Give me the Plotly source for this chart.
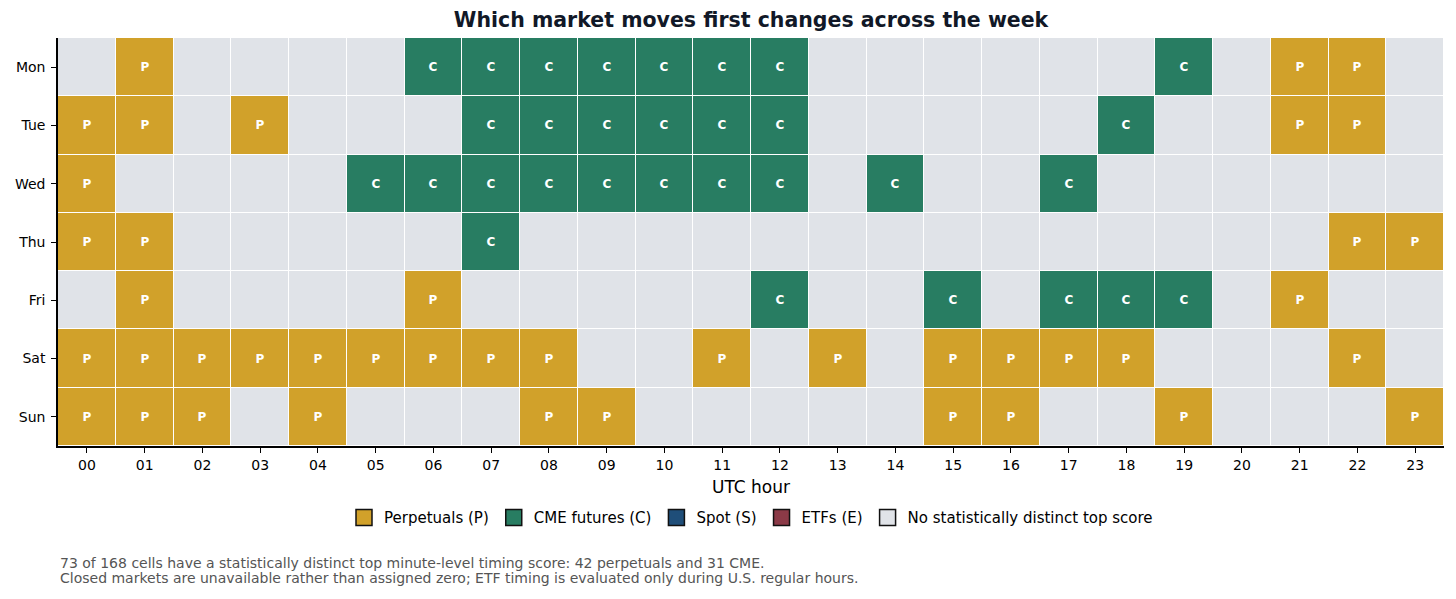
import plotly.graph_objects as go

days = ["Mon", "Tue", "Wed", "Thu", "Fri", "Sat", "Sun"]
hours = [f"{h:02d}" for h in range(24)]

# one letter per UTC hour: P perpetuals, C CME, S spot, E ETFs, - none
mon = "-P----CCCCCCC------C-PP-"
tue = "PP-P---CCCCCC-----C--PP-"
wed = "P----CCCCCCCC-C--C------"
thu = "PP-----C--------------PP"
fri = "-P----P-----C--C-CCC-P--"
sat = "PPPPPPPPP--P-P-PPPP---P-"
sun = "PPP-P---PP-----PP--P---P"

markets = ["Perpetuals (P)", "CME futures (C)", "Spot (S)", "ETFs (E)",
           "No statistically distinct top score"]
colors = ["#D1A12A", "#287D62", "#1F4E79", "#8B3A47", "#E0E3E8"]

footnote = [
    "73 of 168 cells have a statistically distinct top minute-level timing score: 42 perpetuals and 31 CME.",
    "Closed markets are unavailable rather than assigned zero; ETF timing is evaluated only during U.S. regular hours.",
]

rows = [mon, tue, wed, thu, fri, sat, sun]
code_val = {"-": 0, "P": 1, "C": 2, "S": 3, "E": 4}
z = [[code_val[c] for c in r] for r in rows]
txt = [["" if c == "-" else c for c in r] for r in rows]

gray, p, c, s, e = colors[4], colors[0], colors[1], colors[2], colors[3]
cscale = [[0, gray], [0.125, gray], [0.125, p], [0.375, p], [0.375, c],
          [0.625, c], [0.625, s], [0.875, s], [0.875, e], [1, e]]

fig = go.Figure()
fig.add_trace(go.Heatmap(
    z=z, x=hours, y=days, text=txt, texttemplate="%{text}",
    textfont=dict(family="DejaVu Sans", size=12, color="white", weight="bold"),
    colorscale=cscale, zmin=0, zmax=4, showscale=False,
    xgap=1, ygap=1, hoverinfo="skip", showlegend=False
))

# legend entries
for name, col in zip(markets, colors):
    fig.add_trace(go.Scatter(
        x=[None], y=[None], mode="markers", name=name,
        marker=dict(symbol="square", size=16, color=col,
                    line=dict(color="#111111", width=1.5))
    ))

# page body has an 8px margin, so the figure is a bit smaller than the window
fig.update_layout(
    width=1440, height=583,
    paper_bgcolor="white", plot_bgcolor="white",
    margin=dict(l=50, r=4, t=30, b=145),
    font=dict(family="DejaVu Sans", size=14, color="black"),
    title=dict(text="<b>Which market moves first changes across the week</b>",
               x=0.516, xanchor="center", y=0.979, yanchor="middle",
               font=dict(size=20.5, color="#111827")),
    legend=dict(orientation="h", x=0.5, xanchor="center", y=-0.176,
                yanchor="middle", font=dict(size=15), itemwidth=30),
    annotations=[
        dict(text=line, xref="paper", yref="paper", x=0, y=yy,
             xanchor="left", yanchor="middle", align="left", showarrow=False,
             font=dict(size=14, color="#555555"))
        for line, yy in zip(footnote, [-0.287, -0.3235])
    ]
)
fig.update_xaxes(
    title=dict(text="UTC hour", font=dict(size=17), standoff=10),
    showline=True, linecolor="black", linewidth=1.5, mirror=False,
    ticks="outside", ticklen=5, tickcolor="black", showgrid=False,
    zeroline=False, type="category"
)
fig.update_yaxes(
    autorange="reversed", showline=True, linecolor="black", linewidth=1.5,
    ticks="outside", ticklen=5, tickcolor="black", showgrid=False,
    zeroline=False, type="category", ticklabelstandoff=3
)

fig.write_html("out.html")
